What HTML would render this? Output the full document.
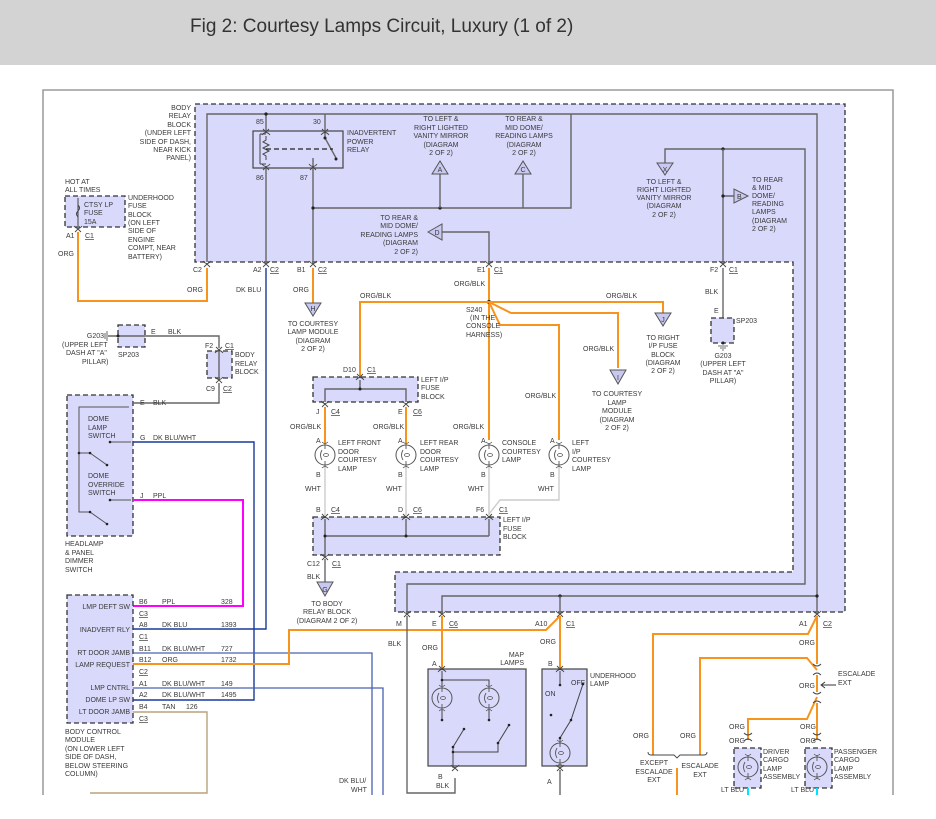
<!DOCTYPE html>
<html><head><meta charset="utf-8"><style>
html,body{margin:0;padding:0;background:#fff;}
svg{display:block;}
text{font-family:"Liberation Sans",sans-serif;font-size:7px;fill:#3a3a3a;}
.t{font-size:19px;fill:#333;}
.r{text-anchor:end;}
.m{text-anchor:middle;}
.u{text-decoration:underline;}
.w{fill:none;stroke:#666;stroke-width:1.4;}
.o{fill:none;stroke:#f7941d;stroke-width:2;}
.b{fill:none;stroke:#1a3a9c;stroke-width:1.4;}
.lb{fill:none;stroke:#4a62b0;stroke-width:1.3;}
.p{fill:none;stroke:#ff00ff;stroke-width:2;}
.wh{fill:none;stroke:#ccc;stroke-width:1.4;}
.tan{fill:none;stroke:#b8a27a;stroke-width:1.4;}
.cy{fill:none;stroke:#00e5ff;stroke-width:2;}
.box{fill:#d9d9fb;stroke:#333;stroke-width:1.3;stroke-dasharray:5,3;}
.sb{fill:#d9d9fb;stroke:#444;stroke-width:1.2;}
.tri{fill:#c8c8f0;stroke:#555;stroke-width:1;}
.d{fill:#222;}
</style></head><body>
<svg width="936" height="819" viewBox="0 0 936 819" xmlns="http://www.w3.org/2000/svg">
<defs>
<g id="cn"><path d="M-4,3 Q0,-2 4,3" fill="none" stroke="#444" stroke-width="0.9"/><path d="M-3,-3 L0,0 L3,-3" fill="none" stroke="#444" stroke-width="0.9"/></g>
<g id="cu"><path d="M-4,-3 Q0,2 4,-3" fill="none" stroke="#444" stroke-width="0.9"/><path d="M-3,3 L0,0 L3,3" fill="none" stroke="#444" stroke-width="0.9"/></g>
<g id="lamp"><circle r="10" fill="none" stroke="#555" stroke-width="1"/><path d="M0,-12 L0,-6 M-3,-5 Q-6,0 -3,5 M0,6 L0,12" fill="none" stroke="#555" stroke-width="0.9"/><ellipse cx="1" cy="0" rx="2.5" ry="1.5" fill="none" stroke="#555" stroke-width="0.8"/><path d="M-3,-13 Q0,-10 3,-13 M-3,13 Q0,10 3,13" fill="none" stroke="#555" stroke-width="0.8"/></g>
</defs>
<rect x="0" y="0" width="936" height="65" fill="#d3d3d3"/>
<text class="t" x="190" y="32">Fig 2: Courtesy Lamps Circuit, Luxury (1 of 2)</text>
<path d="M43,795 V90 H893 V795" fill="none" stroke="#888" stroke-width="1.3"/>

<!-- body relay block big -->
<path class="box" d="M195,104 H845 V612 H395 V572 H793 V262 H195 Z"/>
<text class="r" x="191" y="110">BODY</text><text class="r" x="191" y="118">RELAY</text><text class="r" x="191" y="127">BLOCK</text><text class="r" x="191" y="135">(UNDER LEFT</text><text class="r" x="191" y="144">SIDE OF DASH,</text><text class="r" x="191" y="152">NEAR KICK</text><text class="r" x="191" y="160">PANEL)</text>

<!-- relay -->
<rect class="sb" x="253" y="131" width="90" height="37" fill="#c8c8f4"/>
<path class="w" d="M207,262 V114 H817 V612"/>
<path class="w" d="M266,114 V131 M325,114 V138 L336,158"/>
<path d="M266,136 v4 l-3,2 l6,3 l-6,3 l6,3 l-6,3 l3,2 v4" fill="none" stroke="#444" stroke-width="1"/>
<path d="M260,134 V164 M260,134 H266 M260,164 H266" fill="none" stroke="#444" stroke-width="1"/>
<path d="M266,149 H333" fill="none" stroke="#222" stroke-width="1.2" stroke-dasharray="5,3"/>
<circle class="d" cx="266" cy="114" r="1.6"/><circle class="d" cx="325" cy="138" r="1.5"/><circle class="d" cx="336" cy="159" r="1.5"/>
<path class="w" d="M266,168 V262 M313,158 V262"/>
<text x="256" y="124">85</text><text x="313" y="124">30</text><text x="256" y="180">86</text><text x="300" y="180">87</text>
<text x="347" y="135">INADVERTENT</text><text x="347" y="144">POWER</text><text x="347" y="152">RELAY</text>
<use href="#cn" x="266" y="132"/><use href="#cn" x="325" y="132"/><use href="#cu" x="266" y="167"/><use href="#cu" x="313" y="167"/>

<path class="w" d="M313,208 H571 V114"/>
<circle class="d" cx="313" cy="208" r="1.6"/><circle class="d" cx="440" cy="208" r="1.6"/>
<path class="w" d="M440,208 V174 M523,208 V174"/>
<polygon class="tri" points="440,161 432,174 448,174"/><text class="m" x="440" y="172">A</text>
<polygon class="tri" points="523,161 515,174 531,174"/><text class="m" x="523" y="172">C</text>
<text class="m" x="441" y="121">TO LEFT &amp;</text><text class="m" x="441" y="130">RIGHT LIGHTED</text><text class="m" x="441" y="138">VANITY MIRROR</text><text class="m" x="441" y="147">(DIAGRAM</text><text class="m" x="441" y="155">2 OF 2)</text>
<text class="m" x="524" y="121">TO REAR &amp;</text><text class="m" x="524" y="130">MID DOME/</text><text class="m" x="524" y="138">READING LAMPS</text><text class="m" x="524" y="147">(DIAGRAM</text><text class="m" x="524" y="155">2 OF 2)</text>
<path class="w" d="M442,232 H489 V262"/>
<polygon class="tri" points="428,232 442,224 442,240"/><text class="m" x="437" y="235">D</text>
<text class="r" x="418" y="220">TO REAR &amp;</text><text class="r" x="418" y="228">MID DOME/</text><text class="r" x="418" y="237">READING LAMPS</text><text class="r" x="418" y="245">(DIAGRAM</text><text class="r" x="418" y="254">2 OF 2)</text>

<path class="w" d="M665,163 V149 H805 V584 H407 V612"/>
<circle class="d" cx="723" cy="149" r="1.6"/>
<polygon class="tri" points="657,163 673,163 665,175"/><text class="m" x="665" y="172">X</text>
<text class="m" x="664" y="184">TO LEFT &amp;</text><text class="m" x="664" y="192">RIGHT LIGHTED</text><text class="m" x="664" y="200">VANITY MIRROR</text><text class="m" x="664" y="208">(DIAGRAM</text><text class="m" x="664" y="217">2 OF 2)</text>
<path class="w" d="M723,149 V262 M723,196 H734"/>
<circle class="d" cx="723" cy="196" r="1.6"/>
<polygon class="tri" points="734,189 734,203 748,196"/><text x="737" y="199">B</text>
<text x="752" y="182">TO REAR</text><text x="752" y="190">&amp; MID</text><text x="752" y="198">DOME/</text><text x="752" y="206">READING</text><text x="752" y="214">LAMPS</text><text x="752" y="223">(DIAGRAM</text><text x="752" y="231">2 OF 2)</text>

<path class="w" d="M442,612 V596 H817"/>
<circle class="d" cx="560" cy="596" r="1.6"/><circle class="d" cx="817" cy="596" r="1.6"/>
<path class="w" d="M560,596 V612"/>

<!-- connectors on block edge -->
<use href="#cu" x="207" y="264"/><use href="#cu" x="266" y="264"/><use href="#cu" x="313" y="264"/><use href="#cu" x="489" y="264"/><use href="#cu" x="723" y="264"/>
<use href="#cu" x="407" y="614"/><use href="#cu" x="442" y="614"/><use href="#cu" x="560" y="614"/><use href="#cu" x="817" y="614"/>
<text x="193" y="272">C2</text><text x="253" y="272">A2</text><text class="u" x="270" y="272">C2</text><text x="297" y="272">B1</text><text class="u" x="318" y="272">C2</text><text x="477" y="272">E1</text><text class="u" x="494" y="272">C1</text><text x="710" y="272">F2</text><text class="u" x="729" y="272">C1</text>
<text x="396" y="626">M</text><text x="432" y="626">E</text><text class="u" x="449" y="626">C6</text><text x="535" y="626">A10</text><text class="u" x="566" y="626">C1</text><text x="799" y="626">A1</text><text class="u" x="823" y="626">C2</text>

<!-- underhood fuse -->
<rect class="box" x="65" y="196" width="60" height="31"/>
<path d="M78,198 V226 M78,205 q3,3 0,6 q-3,3 0,6" fill="none" stroke="#444" stroke-width="1"/>
<text x="84" y="207">CTSY LP</text><text x="84" y="215">FUSE</text><text x="84" y="224">15A</text>
<text x="65" y="184">HOT AT</text><text x="65" y="192">ALL TIMES</text>
<text x="128" y="200">UNDERHOOD</text><text x="128" y="208">FUSE</text><text x="128" y="217">BLOCK</text><text x="128" y="225">(ON LEFT</text><text x="128" y="233">SIDE OF</text><text x="128" y="242">ENGINE</text><text x="128" y="250">COMPT, NEAR</text><text x="128" y="259">BATTERY)</text>
<use href="#cu" x="78" y="229"/>
<text x="66" y="238">A1</text><text class="u" x="85" y="238">C1</text><text x="58" y="256">ORG</text>
<path class="o" d="M78,232 V301 H207 V268"/>
<text x="187" y="292">ORG</text>
<path class="b" d="M266,268 V629 H133"/>
<text x="236" y="292">DK BLU</text>
<path class="o" d="M313,268 V303"/>
<text x="293" y="292">ORG</text>
<polygon class="tri" points="305,303 321,303 313,316"/><text class="m" x="313" y="311">H</text>
<text class="m" x="313" y="326">TO COURTESY</text><text class="m" x="313" y="334">LAMP MODULE</text><text class="m" x="313" y="343">(DIAGRAM</text><text class="m" x="313" y="351">2 OF 2)</text>

<!-- S240 -->
<path class="o" d="M489,268 V440"/>
<text x="454" y="286">ORG/BLK</text>
<circle class="d" cx="489" cy="302" r="2"/>
<path class="o" d="M489,302 H360 V376"/>
<path class="o" d="M489,302 H663 V313"/>
<path class="o" d="M489,302 L511,313 H618 V368"/>
<path class="o" d="M489,302 L500,325 H559 V440"/>
<text x="360" y="298">ORG/BLK</text><text x="606" y="298">ORG/BLK</text><text x="583" y="351">ORG/BLK</text><text x="525" y="398">ORG/BLK</text>
<text x="466" y="312">S240</text><text x="470" y="320">(IN THE</text><text x="466" y="328">CONSOLE</text><text x="466" y="337">HARNESS)</text>
<polygon class="tri" points="655,313 671,313 663,326"/><text class="m" x="663" y="322">J</text>
<text class="m" x="663" y="340">TO RIGHT</text><text class="m" x="663" y="348">I/P FUSE</text><text class="m" x="663" y="357">BLOCK</text><text class="m" x="663" y="365">(DIAGRAM</text><text class="m" x="663" y="373">2 OF 2)</text>
<polygon class="tri" points="610,370 626,370 618,384"/><text class="m" x="618" y="380">I</text>
<text class="m" x="617" y="396">TO COURTESY</text><text class="m" x="617" y="405">LAMP</text><text class="m" x="617" y="413">MODULE</text><text class="m" x="617" y="422">(DIAGRAM</text><text class="m" x="617" y="430">2 OF 2)</text>

<!-- SP203 right -->
<path class="w" d="M723,268 V340"/>
<text x="705" y="294">BLK</text><text x="714" y="313">E</text>
<rect class="box" x="711" y="318" width="23" height="25"/>
<circle class="d" cx="723" cy="343" r="1.5"/>
<path d="M718,346 H728 M720,348 H726 M722,350 H724" stroke="#444" stroke-width="0.8"/>
<text x="736" y="323">SP203</text>
<text class="m" x="723" y="358">G203</text><text class="m" x="723" y="366">(UPPER LEFT</text><text class="m" x="723" y="375">DASH AT "A"</text><text class="m" x="723" y="383">PILLAR)</text>

<!-- left I/P fuse block top -->
<rect class="box" x="313" y="377" width="105" height="25"/>
<path class="w" d="M360,380 V389 M325,402 V389 H406 V402"/>
<circle class="d" cx="360" cy="389" r="1.5"/>
<use href="#cn" x="360" y="377"/><use href="#cu" x="325" y="404"/><use href="#cu" x="406" y="404"/>
<text x="343" y="372">D10</text><text class="u" x="367" y="372">C1</text>
<text x="421" y="382">LEFT I/P</text><text x="421" y="390">FUSE</text><text x="421" y="399">BLOCK</text>
<text x="316" y="414">J</text><text class="u" x="331" y="414">C4</text><text x="398" y="414">E</text><text class="u" x="413" y="414">C6</text>
<path class="o" d="M325,407 V443 M406,407 V443"/>
<text x="290" y="429">ORG/BLK</text><text x="373" y="429">ORG/BLK</text><text x="453" y="429">ORG/BLK</text>
<use href="#lamp" x="325" y="455"/><use href="#lamp" x="406" y="455"/><use href="#lamp" x="489" y="455"/><use href="#lamp" x="559" y="455"/>
<text x="316" y="443">A</text><text x="398" y="443">A</text><text x="481" y="443">A</text><text x="550" y="443">A</text>
<text x="316" y="477">B</text><text x="398" y="477">B</text><text x="481" y="477">B</text><text x="550" y="477">B</text>
<text x="338" y="445">LEFT FRONT</text><text x="338" y="454">DOOR</text><text x="338" y="462">COURTESY</text><text x="338" y="471">LAMP</text>
<text x="420" y="445">LEFT REAR</text><text x="420" y="454">DOOR</text><text x="420" y="462">COURTESY</text><text x="420" y="471">LAMP</text>
<text x="502" y="445">CONSOLE</text><text x="502" y="454">COURTESY</text><text x="502" y="462">LAMP</text>
<text x="572" y="445">LEFT</text><text x="572" y="454">I/P</text><text x="572" y="462">COURTESY</text><text x="572" y="471">LAMP</text>
<path class="wh" d="M325,467 V515 M406,467 V515 M489,467 V515 M559,467 V500 H500 L489,514"/>
<text x="305" y="491">WHT</text><text x="386" y="491">WHT</text><text x="468" y="491">WHT</text><text x="538" y="491">WHT</text>
<rect class="box" x="313" y="517" width="187" height="38"/>
<path class="w" d="M325,519 V556 M406,519 V536 M489,519 V536 M325,536 H489"/>
<circle class="d" cx="325" cy="536" r="1.5"/><circle class="d" cx="406" cy="536" r="1.5"/>
<use href="#cn" x="325" y="517"/><use href="#cn" x="406" y="517"/><use href="#cn" x="489" y="517"/><use href="#cu" x="325" y="557"/>
<text x="316" y="512">B</text><text class="u" x="331" y="512">C4</text><text x="398" y="512">D</text><text class="u" x="413" y="512">C6</text><text x="476" y="512">F6</text><text class="u" x="499" y="512">C1</text>
<text x="503" y="522">LEFT I/P</text><text x="503" y="531">FUSE</text><text x="503" y="539">BLOCK</text>
<text x="307" y="566">C12</text><text class="u" x="332" y="566">C1</text>
<path class="w" d="M325,559 V582"/>
<text x="307" y="579">BLK</text>
<polygon class="tri" points="317,582 333,582 325,596"/><text class="m" x="325" y="592">G</text>
<text class="m" x="327" y="606">TO BODY</text><text class="m" x="327" y="614">RELAY BLOCK</text><text class="m" x="327" y="623">(DIAGRAM 2 OF 2)</text>

<!-- SP203 left + small body relay block -->
<rect class="box" x="118" y="325" width="27" height="22"/>
<path class="w" d="M108,336 H145 M145,336 H219 V348"/>
<path d="M107,331 V341 M105,333 V339" stroke="#444" stroke-width="0.8"/>
<circle class="d" cx="118" cy="336" r="1.5"/>
<text class="r" x="104" y="338">G203</text><text x="62" y="347">(UPPER LEFT</text><text x="66" y="355">DASH AT "A"</text><text x="82" y="364">PILLAR)</text>
<text x="118" y="357">SP203</text><text x="151" y="334">E</text><text x="168" y="334">BLK</text>
<rect class="box" x="207" y="351" width="25" height="27"/>
<path class="w" d="M219,352 V378"/>
<use href="#cn" x="219" y="350"/><use href="#cu" x="219" y="380"/>
<text x="205" y="348">F2</text><text class="u" x="225" y="348">C1</text>
<text x="235" y="357">BODY</text><text x="235" y="366">RELAY</text><text x="235" y="374">BLOCK</text>
<text x="206" y="391">C9</text><text class="u" x="223" y="391">C2</text>

<!-- headlamp switch -->
<rect class="box" x="67" y="395" width="66" height="141"/>
<path class="w" d="M133,403 H219 V383"/>
<path d="M129,407 H79 V512 H90 L107,524 M79,453 H90 L107,465 M110,442 H131 M110,500 H131" fill="none" stroke="#555" stroke-width="1"/>
<circle class="d" cx="79" cy="453" r="1.3"/><circle class="d" cx="90" cy="453" r="1.3"/><circle class="d" cx="107" cy="465" r="1.3"/><circle class="d" cx="90" cy="512" r="1.3"/><circle class="d" cx="107" cy="524" r="1.3"/><circle class="d" cx="110" cy="442" r="1.3"/><circle class="d" cx="110" cy="500" r="1.3"/>
<text x="88" y="421">DOME</text><text x="88" y="430">LAMP</text><text x="88" y="438">SWITCH</text>
<text x="88" y="478">DOME</text><text x="88" y="487">OVERRIDE</text><text x="88" y="495">SWITCH</text>
<text x="140" y="405">E</text><text x="153" y="405">BLK</text>
<text x="140" y="440">G</text><text x="153" y="440">DK BLU/WHT</text>
<text x="140" y="498">J</text><text x="153" y="498">PPL</text>
<path class="b" d="M133,442 H254 V700 H133"/>
<path class="p" d="M133,500 H243 V606 H133"/>
<text x="65" y="546">HEADLAMP</text><text x="65" y="555">&amp; PANEL</text><text x="65" y="563">DIMMER</text><text x="65" y="572">SWITCH</text>

<!-- BCM -->
<rect class="box" x="67" y="595" width="66" height="128"/>
<text class="r" x="130" y="609">LMP DEFT SW</text><text class="r" x="130" y="632">INADVERT RLY</text><text class="r" x="130" y="655">RT DOOR JAMB</text><text class="r" x="130" y="667">LAMP REQUEST</text><text class="r" x="130" y="690">LMP CNTRL</text><text class="r" x="130" y="702">DOME LP SW</text><text class="r" x="130" y="714">LT DOOR JAMB</text>
<text x="139" y="604">B6</text><text x="162" y="604">PPL</text><text x="221" y="604">328</text><text class="u" x="139" y="616">C3</text>
<text x="139" y="627">A8</text><text x="162" y="627">DK BLU</text><text x="221" y="627">1393</text><text class="u" x="139" y="639">C1</text>
<text x="139" y="651">B11</text><text x="162" y="651">DK BLU/WHT</text><text x="221" y="651">727</text>
<text x="139" y="662">B12</text><text x="162" y="662">ORG</text><text x="221" y="662">1732</text><text class="u" x="139" y="674">C2</text>
<text x="139" y="686">A1</text><text x="162" y="686">DK BLU/WHT</text><text x="221" y="686">149</text>
<text x="139" y="697">A2</text><text x="162" y="697">DK BLU/WHT</text><text x="221" y="697">1495</text>
<text x="139" y="709">B4</text><text x="162" y="709">TAN</text><text x="186" y="709">126</text><text class="u" x="139" y="721">C3</text>
<path class="lb" d="M133,653 H372 V795 M133,688 H383 V795"/>
<path class="o" d="M133,664 H289 V630 H546 L560,616"/>
<path class="tan" d="M133,712 H207 V793 H90"/>
<text x="65" y="734">BODY CONTROL</text><text x="65" y="742">MODULE</text><text x="65" y="751">(ON LOWER LEFT</text><text x="65" y="759">SIDE OF DASH,</text><text x="65" y="768">BELOW STEERING</text><text x="65" y="776">COLUMN)</text>
<text x="339" y="783">DK BLU/</text><text x="351" y="792">WHT</text>

<!-- bottom middle -->
<path class="w" d="M407,616 V793 H455 V778"/>
<text x="388" y="646">BLK</text><text x="436" y="788">BLK</text>
<path class="o" d="M442,616 V669 M560,616 V669"/>
<text x="422" y="650">ORG</text><text x="540" y="644">ORG</text>
<rect class="sb" x="428" y="669" width="98" height="97"/>
<rect class="sb" x="542" y="669" width="45" height="97"/>
<text x="432" y="666">A</text><text class="r" x="524" y="657">MAP</text><text class="r" x="524" y="665">LAMPS</text>
<text x="548" y="666">B</text><text x="590" y="678">UNDERHOOD</text><text x="590" y="686">LAMP</text>
<use href="#cn" x="442" y="669"/><use href="#cn" x="560" y="669"/><use href="#cu" x="455" y="768"/><use href="#cu" x="560" y="768"/>
<path d="M442,671 V680 H489 V686 M442,680 V686 M442,710 V720 M489,710 V720 M453,747 L464,729 M498,743 L509,725 M453,747 V768 M453,752 H498 V743" fill="none" stroke="#444" stroke-width="1"/>
<use href="#lamp" x="442" y="698"/><use href="#lamp" x="489" y="698"/>
<circle class="d" cx="442" cy="680" r="1.3"/><circle class="d" cx="442" cy="720" r="1.3"/><circle class="d" cx="489" cy="720" r="1.3"/><circle class="d" cx="453" cy="747" r="1.3"/><circle class="d" cx="464" cy="729" r="1.3"/><circle class="d" cx="498" cy="743" r="1.3"/><circle class="d" cx="509" cy="725" r="1.3"/><circle class="d" cx="453" cy="752" r="1.3"/>
<path d="M560,671 V685 M583,684 L571,720 L560,738 V745" fill="none" stroke="#444" stroke-width="1"/>
<circle class="d" cx="560" cy="685" r="1.3"/><circle class="d" cx="583" cy="684" r="1.3"/><circle class="d" cx="571" cy="720" r="1.3"/><circle class="d" cx="551" cy="715" r="1.3"/><circle class="d" cx="560" cy="738" r="1.3"/>
<use href="#lamp" x="560" y="753"/>
<text x="545" y="696">ON</text><text x="571" y="685">OFF</text>
<path class="w" d="M560,770 V795"/><text x="547" y="784">A</text><text x="438" y="779">B</text>

<!-- bottom right -->
<path class="o" d="M817,616 L808,634 H653 V755"/>
<path class="o" d="M817,616 V664 M817,675 V692 M817,703 V740"/>
<path class="o" d="M817,670 L807,658 H700 V755"/>
<path class="o" d="M817,697 L807,719 H748 V740"/>
<path class="o" d="M677,768 V795"/>
<path d="M813,664 Q817,668 821,664 M813,675 Q817,671 821,675 M813,692 Q817,696 821,692 M813,703 Q817,699 821,703 M744,733 Q748,737 752,733 M744,741 Q748,737 752,741 M813,733 Q817,737 821,733 M813,741 Q817,737 821,741" fill="none" stroke="#444" stroke-width="0.9"/>
<path d="M836,685 H822 M825,682 L821,685 L825,688" fill="none" stroke="#333" stroke-width="0.9"/>
<text x="838" y="676">ESCALADE</text><text x="838" y="685">EXT</text>
<text x="799" y="645">ORG</text><text x="799" y="688">ORG</text><text x="729" y="729">ORG</text><text x="729" y="743">ORG</text><text x="800" y="729">ORG</text><text x="800" y="743">ORG</text>
<text x="633" y="738">ORG</text><text x="680" y="738">ORG</text>
<path d="M648,752 Q648,755 651,755 H674 L677,758 L680,755 H704 Q707,755 707,752" fill="none" stroke="#444" stroke-width="0.9"/>
<text class="m" x="654" y="765">EXCEPT</text><text class="m" x="654" y="774">ESCALADE</text><text class="m" x="654" y="782">EXT</text>
<text class="m" x="700" y="768">ESCALADE</text><text class="m" x="700" y="777">EXT</text>
<rect class="box" x="734" y="748" width="27" height="40"/><rect class="box" x="805" y="748" width="27" height="40"/>
<use href="#lamp" x="748" y="767"/><use href="#lamp" x="817" y="767"/>
<text x="763" y="754">DRIVER</text><text x="763" y="762">CARGO</text><text x="763" y="771">LAMP</text><text x="763" y="779">ASSEMBLY</text>
<text x="834" y="754">PASSENGER</text><text x="834" y="762">CARGO</text><text x="834" y="771">LAMP</text><text x="834" y="779">ASSEMBLY</text>
<path class="cy" d="M748,788 V795 M817,788 V795"/>
<text x="721" y="792">LT BLU</text><text x="791" y="792">LT BLU</text>
</svg>
</body></html>
